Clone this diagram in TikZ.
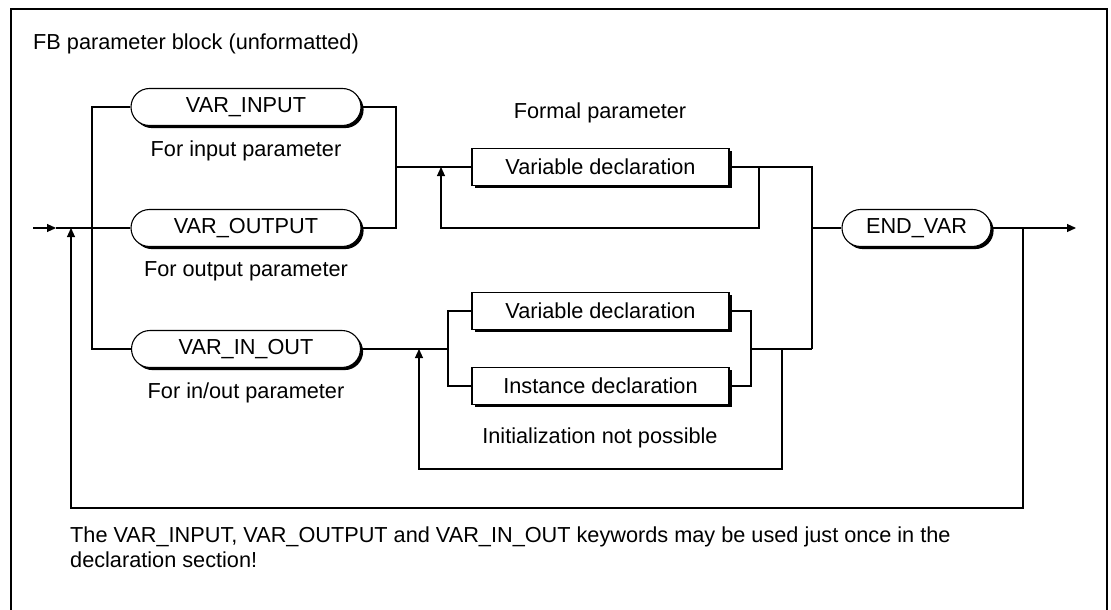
\documentclass[tikz,border=0pt]{standalone}
\usepackage{fontspec}
\setmainfont{Liberation Sans}
\usetikzlibrary{arrows.meta,shapes.misc,shadows}
\begin{document}
\begin{tikzpicture}[x=1pt,y=-1pt,
  every node/.style={font=\fontsize{21.7}{25}\selectfont},
  ln/.style={line width=1.1pt},
  arr/.style={ln,-{Triangle[length=9pt,width=8pt]}},
  shd/.style={drop shadow={shadow xshift=2.6pt,shadow yshift=-2.6pt,opacity=1,fill=black}},
  term/.style={rounded rectangle,draw,line width=1.1pt,fill=white,shd,minimum height=37pt,inner sep=0pt},
  boxn/.style={rectangle,draw,line width=1.1pt,fill=white,shd,minimum height=37pt,minimum width=257pt,inner sep=0pt},
  lbl/.style={anchor=base,inner sep=0pt}]
\useasboundingbox (0,0) rectangle (1111,610);
% frame
\draw[line width=1.3pt] (11,612) -- (11,9) -- (1107,9) -- (1107,612);
\node[anchor=base west,inner sep=0pt] (title) at (33,50) {FB parameter block (unformatted)};

% nodes
\node[term,minimum width=230pt] (vin) at (246,107) {VAR\_INPUT};
\node[term,minimum width=230pt] (vout) at (246,228) {VAR\_OUTPUT};
\node[term,minimum width=229pt] (vio) at (246,349) {VAR\_IN\_OUT};
\node[term,minimum width=149pt] (endv) at (916.5,228) {END\_VAR};
\node[boxn] (vd1) at (600.5,167) {Variable declaration};
\node[boxn] (vd2) at (600.5,311) {Variable declaration};
\node[boxn] (inst) at (600.5,386) {Instance declaration};

\node[lbl] (l1) at (246,156) {For input parameter};
\node[lbl] (l2) at (246,276) {For output parameter};
\node[lbl] (l3) at (246,398) {For in/out parameter};
\node[lbl] (l4) at (600,118) {Formal parameter};
\node[lbl] (l5) at (600,443) {Initialization not possible};
\node[anchor=base west,inner sep=0pt] (note1) at (70,542)
  {The VAR\_INPUT, VAR\_OUTPUT and VAR\_IN\_OUT keywords may be used just once in the};
\node[anchor=base west,inner sep=0pt] (note2) at (70,567) {declaration section!};

% coordinates
\coordinate (in) at (33,228);
\coordinate (inarr) at (56,228);
\coordinate (lt) at (92,107);
\coordinate (lb) at (92,349);
\coordinate (rt) at (396,107);
\coordinate (rb) at (396,228);
\coordinate (rm) at (396,167);
\coordinate (la1) at (441,228);
\coordinate (la1t) at (441,167);
\coordinate (lp1) at (759,167);
\coordinate (lp1b) at (759,228);
\coordinate (jt) at (812,167);
\coordinate (jm) at (812,228);
\coordinate (jb) at (812,349);
\coordinate (bl) at (448,349);
\coordinate (blt) at (448,311);
\coordinate (blb) at (448,386);
\coordinate (br) at (751,349);
\coordinate (brt) at (751,311);
\coordinate (brb) at (751,386);
\coordinate (lp2) at (782,349);
\coordinate (lp2b) at (782,469);
\coordinate (la2b) at (419,469);
\coordinate (la2) at (419,349);
\coordinate (outj) at (1023,228);
\coordinate (outj2) at (1023,508);
\coordinate (ret2) at (71,508);
\coordinate (ret) at (71,228);
\coordinate (out) at (1076,228);

% connectors
\draw[arr] (in) -- (inarr);
\draw[ln] (inarr) -- (vout.west);
\draw[ln] (vin.west) -- (lt) -- (lb) -- (vio.west);
\draw[ln] (vin.east) -- (rt) -- (rb) -- (vout.east);
\draw[ln] (rm) -- (vd1.west);
\draw[ln] (vd1.east) -- (jt) -- (jb);
\draw[arr] (lp1) -- (lp1b) -- (la1) -- (la1t);
\draw[ln] (jm) -- (endv.west);
\draw[arr] (endv.east) -- (out);
\draw[ln] (vio.east) -- (bl);
\draw[ln] (vd2.west) -- (blt) -- (blb) -- (inst.west);
\draw[ln] (vd2.east) -- (brt) -- (brb) -- (inst.east);
\draw[ln] (br) -- (jb);
\draw[arr] (lp2) -- (lp2b) -- (la2b) -- (la2);
\draw[arr] (outj) -- (outj2) -- (ret2) -- (ret);
\end{tikzpicture}
\end{document}
